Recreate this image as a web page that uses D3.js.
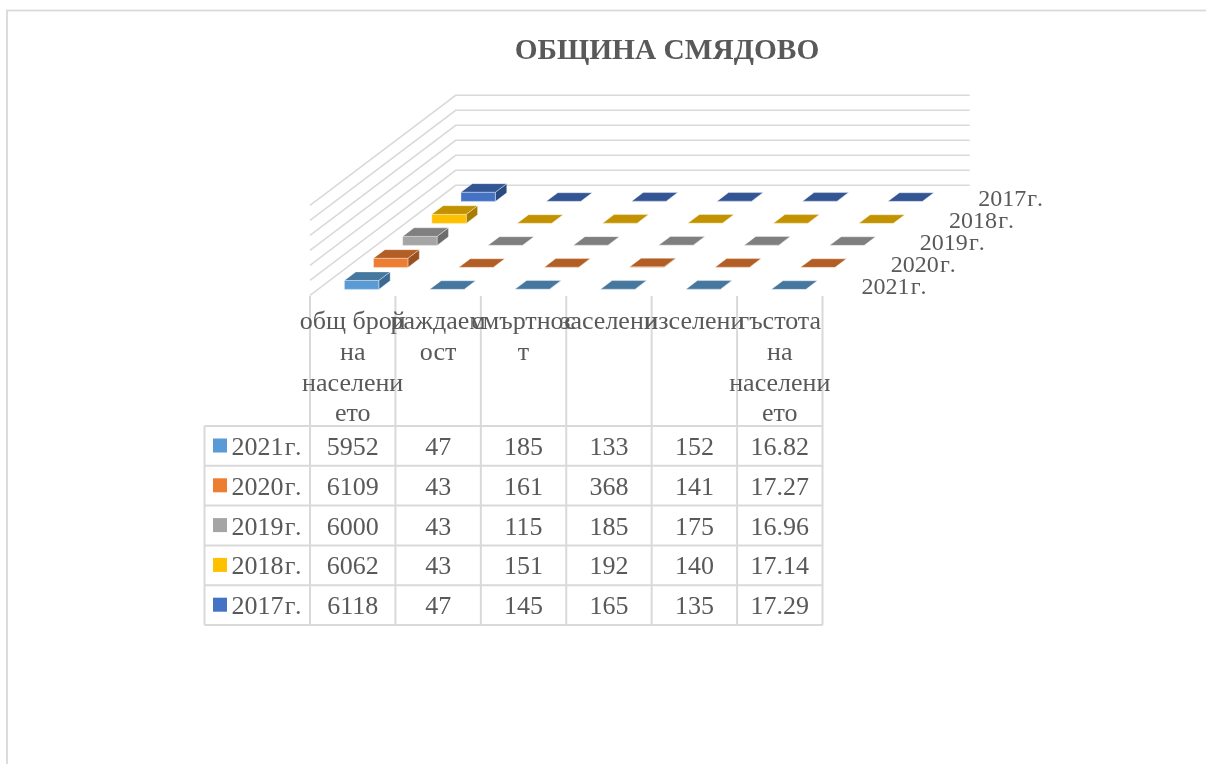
<!DOCTYPE html>
<html>
<head>
<meta charset="utf-8">
<script src="https://cdn.jsdelivr.net/npm/d3@7"></script>
<style>
html,body{margin:0;padding:0;background:#fff;overflow:hidden}
svg{display:block;filter:blur(0.35px)}
text{font-family:"Liberation Serif",serif;fill:#595959}
</style>
</head>
<body>
<svg id="chart" width="1206" height="764"></svg>
<script>
const title = "ОБЩИНА СМЯДОВО";
const categories = ["общ брой","раждаемост","смъртност","заселени","изселени","гъстота на населението"];
const categoryLines = [["общ брой","на","населени","ето"],["раждаем","ост"],["смъртнос","т"],["заселени"],["изселени"],["гъстота","на","населени","ето"]];
const seriesNames = ["2021г.","2020г.","2019г.","2018г.","2017г."];
const v2021 = [5952,47,185,133,152,16.82];
const v2020 = [6109,43,161,368,141,17.27];
const v2019 = [6000,43,115,185,175,16.96];
const v2018 = [6062,43,151,192,140,17.14];
const v2017 = [6118,47,145,165,135,17.29];
const seriesValues = [v2021,v2020,v2019,v2018,v2017];
const frontColors = ["#5B9BD5","#ED7D31","#A5A5A5","#FFC000","#4472C4"];
const topColors   = ["#46779F","#B35E25","#7F7F7F","#C29200","#335593"];
const sideColors  = ["#3A6A93","#9A5120","#6C6C6C","#A67D00","#2B4A80"];
const yTicks = [0,10000,20000,30000,40000,50000,60000];

const svg = d3.select("#chart");
const grid = "#d9d9d9";

// year label with the wider suffix spacing of the original face
function yearLabel(sel, name) {
  const year = name.slice(0,4), suffix = name.slice(4);
  sel.append("tspan").text(year);
  sel.append("tspan").attr("letter-spacing",2.6).attr("dx",1.2).text(suffix);
}

// frame
svg.append("rect").attr("x",7).attr("y",10.5).attr("width",1300).attr("height",900)
  .attr("fill","#fff").attr("stroke",grid).attr("stroke-width",1.8);

// title
svg.append("text").attr("x",667).attr("y",58.5).attr("text-anchor","middle")
  .attr("font-size",29.4).attr("font-weight","bold").text(title);

// oblique projection
const x = d3.scaleBand().domain(categories).range([310,822.5]);
const depth = d3.scaleLinear().domain([0,1]).range([0,1]);
const depthBand = d3.scaleBand().domain(seriesNames).range([0,1]).paddingInner(0.61).paddingOuter(0.305);
const depthDX = 145.7, depthDY = -110;
const h = d3.scaleLinear().domain([0,60000]).range([0,90]);
const floorY = 295.3;
const project = (px, d, val) => [px + depthDX*depth(d), floorY + depthDY*depth(d) - h(val)];
const poly = pts => pts.map(p => p.join(",")).join(" ");

// walls
const gridG = svg.append("g").attr("fill","none").attr("stroke",grid).attr("stroke-width",1.5);
yTicks.forEach(t => {
  const a = project(x.range()[0],0,t), b = project(x.range()[0],1,t), c = project(x.range()[1]+1.5,1,t);
  gridG.append("polyline").attr("points",poly([a,b,c]));
});

// bars, back to front
const barW = 34.4, catStep = x.step();
for (let s = seriesNames.length-1; s >= 0; s--) {
  const name = seriesNames[s];
  const d0 = depthBand(name), d1 = d0 + depthBand.bandwidth();
  const g = svg.append("g").attr("transform","translate(0,0.8)")
    .attr("stroke","#fff").attr("stroke-opacity",0.45).attr("stroke-width",0.8).attr("stroke-linejoin","round");
  categories.forEach((c,i) => {
    const v = seriesValues[s][i];
    const l = x(c) + (catStep-barW)/2, r = l + barW;
    g.append("polygon").attr("fill",sideColors[s]).attr("points",poly([project(r,d0,0),project(r,d1,0),project(r,d1,v),project(r,d0,v)]));
    g.append("polygon").attr("fill",frontColors[s]).attr("points",poly([project(l,d0,0),project(r,d0,0),project(r,d0,v),project(l,d0,v)]));
    g.append("polygon").attr("fill",topColors[s]).attr("points",poly([project(l,d0,v),project(r,d0,v),project(r,d1,v),project(l,d1,v)]));
  });
  // depth axis label
  const mid = project(x.range()[1], d0+depthBand.bandwidth()/2, 0);
  svg.append("text").attr("x",mid[0]+24.5).attr("y",mid[1]+10).attr("font-size",24).call(yearLabel,name);
}

// data table
const tableTop = 426, rowH = 39.8, tableLeft = 204.5, headerTop = 296;
const rowY = d3.scaleBand().domain(seriesNames).range([tableTop, tableTop+rowH*seriesNames.length]);
const tableBottom = rowY.range()[1];
const lines = svg.append("g").attr("stroke",grid).attr("stroke-width",2);
x.domain().concat(["end"]).forEach((c,i) => {
  const xx = x.range()[0] + i*catStep;
  lines.append("line").attr("x1",xx).attr("x2",xx).attr("y1",headerTop).attr("y2",tableBottom);
});
lines.append("line").attr("x1",tableLeft).attr("x2",tableLeft).attr("y1",tableTop).attr("y2",tableBottom);
d3.range(seriesNames.length+1).forEach(i => {
  const yy = tableTop + i*rowH;
  lines.append("line").attr("x1",tableLeft).attr("x2",x.range()[1]).attr("y1",yy).attr("y2",yy);
});

seriesNames.forEach((name,s) => {
  const ry = rowY(name);
  svg.append("rect").attr("x",213).attr("y",ry+12.5).attr("width",14).attr("height",14).attr("fill",frontColors[s]);
  svg.append("text").attr("x",231.5).attr("y",ry+29).attr("font-size",26).call(yearLabel,name);
  categories.forEach((c,i) => {
    svg.append("text").attr("x",x(c)+catStep/2).attr("y",ry+29).attr("font-size",26)
      .attr("text-anchor","middle").text(seriesValues[s][i]);
  });
});

// category labels
categories.forEach((c,i) => {
  categoryLines[i].forEach((ln,j) => {
    svg.append("text").attr("x",x(c)+catStep/2).attr("y",329.3+j*30.6).attr("font-size",26)
      .attr("text-anchor","middle").text(ln);
  });
});
</script>
</body>
</html>
